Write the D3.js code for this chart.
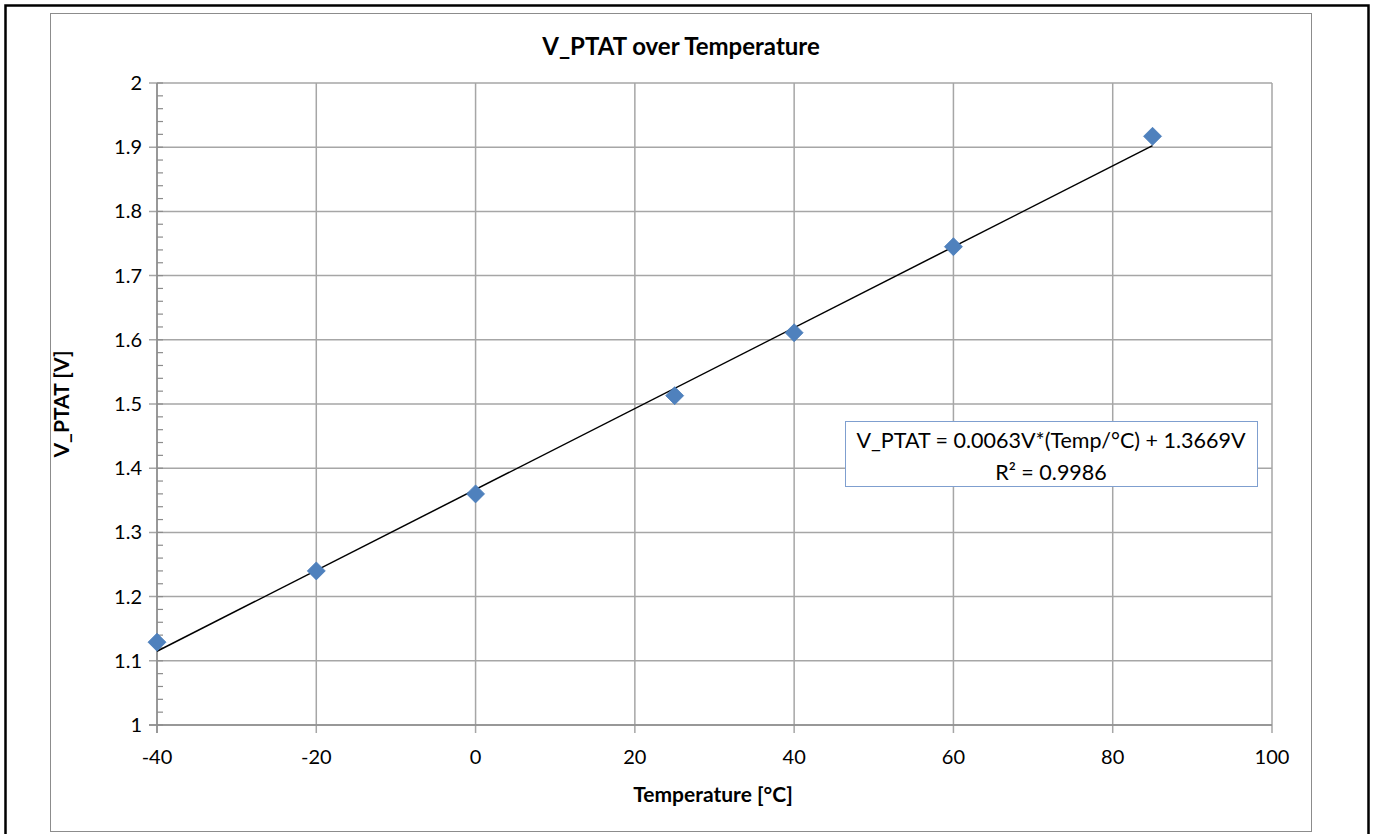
<!DOCTYPE html>
<html>
<head>
<meta charset="utf-8">
<script src="https://cdn.jsdelivr.net/npm/d3@7"></script>
<style>
  body { margin: 0; background: #fff; }
  svg { display: block; }
</style>
</head>
<body>
<svg id="viz"></svg>
<script>
// --- Data ---
const temps = [-40, -20, 0, 25, 40, 60, 85];
const vptat = [1.129, 1.240, 1.360, 1.513, 1.611, 1.745, 1.917];
const xTicks = [-40, -20, 0, 20, 40, 60, 80, 100];
const yTicks = [1, 1.1, 1.2, 1.3, 1.4, 1.5, 1.6, 1.7, 1.8, 1.9, 2];
const trendSlope = 0.0063;
const trendIntercept = 1.3669;
const trendLabel = ["V_PTAT = 0.0063V*(Temp/°C) + 1.3669V", "R² = 0.9986"];

const width = 1375;
const height = 834;
const font = "Lato, 'Open Sans', sans-serif";

const svg = d3.select("#viz")
  .attr("width", width)
  .attr("height", height);

// --- Outer frame ---
svg.append("rect")
  .attr("x", 5.5).attr("y", 5.5)
  .attr("width", 1363).attr("height", 840)
  .attr("fill", "none")
  .attr("stroke", "#000")
  .attr("stroke-width", 2.5);

// --- Chart area border ---
svg.append("rect")
  .attr("x", 50.5).attr("y", 13.5)
  .attr("width", 1261).attr("height", 818)
  .attr("fill", "#fff")
  .attr("stroke", "#8c8c8c")
  .attr("stroke-width", 1);

const x = d3.scaleLinear().domain([-40, 100]).range([157, 1272]);
const y = d3.scaleLinear().domain([1, 2]).range([725, 83]);

// --- Grid lines ---
const grid = svg.append("g").attr("stroke", "#a6a6a6").attr("stroke-width", 1.5);
grid.selectAll(".gx").data(xTicks).join("line")
  .attr("x1", d => x(d)).attr("x2", d => x(d))
  .attr("y1", y(2)).attr("y2", y(1) + 8);
grid.selectAll(".gy").data(yTicks).join("line")
  .attr("x1", x(-40) - 8).attr("x2", x(100))
  .attr("y1", d => y(d)).attr("y2", d => y(d));

// --- Minor ticks on y axis ---
const minor = d3.range(1, 2.0001, 0.02);
svg.append("g").attr("stroke", "#8c8c8c").attr("stroke-width", 1.2)
  .selectAll("line").data(minor).join("line")
  .attr("x1", x(-40)).attr("x2", x(-40) + 6)
  .attr("y1", d => y(d)).attr("y2", d => y(d));

// --- Axis lines ---
svg.append("line")
  .attr("x1", x(-40)).attr("x2", x(-40))
  .attr("y1", y(2)).attr("y2", y(1) + 8)
  .attr("stroke", "#8c8c8c").attr("stroke-width", 1.5);
svg.append("line")
  .attr("x1", x(-40) - 8).attr("x2", x(100))
  .attr("y1", y(1)).attr("y2", y(1))
  .attr("stroke", "#8c8c8c").attr("stroke-width", 1.5);

// --- Tick labels ---
svg.append("g").selectAll("text").data(yTicks).join("text")
  .attr("x", x(-40) - 15)
  .attr("y", d => y(d))
  .attr("dy", "0.35em")
  .attr("text-anchor", "end")
  .attr("font-family", font)
  .attr("font-size", 20)
  .text(d => d3.format("")(d));

svg.append("g").selectAll("text").data(xTicks).join("text")
  .attr("x", d => x(d))
  .attr("y", y(1) + 32)
  .attr("dy", "0.35em")
  .attr("text-anchor", "middle")
  .attr("font-family", font)
  .attr("font-size", 20)
  .text(d => d);

// --- Titles ---
svg.append("text")
  .attr("x", 681).attr("y", 47)
  .attr("dy", "0.35em")
  .attr("text-anchor", "middle")
  .attr("font-family", font)
  .attr("font-weight", "bold")
  .attr("font-size", 24)
  .text("V_PTAT over Temperature");

svg.append("text")
  .attr("x", 713).attr("y", 795)
  .attr("dy", "0.35em")
  .attr("text-anchor", "middle")
  .attr("font-family", font)
  .attr("font-weight", "bold")
  .attr("font-size", 21)
  .text("Temperature [°C]");

svg.append("text")
  .attr("transform", "translate(62,404) rotate(-90)")
  .attr("dy", "0.35em")
  .attr("text-anchor", "middle")
  .attr("font-family", font)
  .attr("font-weight", "bold")
  .attr("font-size", 21)
  .text("V_PTAT [V]");

// --- Trend line ---
svg.append("line")
  .attr("x1", x(-40)).attr("y1", y(trendSlope * -40 + trendIntercept))
  .attr("x2", x(85)).attr("y2", y(trendSlope * 85 + trendIntercept))
  .attr("stroke", "#000")
  .attr("stroke-width", 1.5);

// --- Data points (diamonds) ---
const points = temps.map((t, i) => ({ t, v: vptat[i] }));
svg.append("g").selectAll("path").data(points).join("path")
  .attr("transform", d => `translate(${x(d.t)},${y(d.v)})`)
  .attr("d", "M0,-9L9,0L0,9L-9,0Z")
  .attr("fill", "#4f81bd")
  .attr("stroke", "#4a7ebb")
  .attr("stroke-width", 0.8);

// --- Trend label box ---
const box = svg.append("g");
box.append("rect")
  .attr("x", 845.5).attr("y", 421.5)
  .attr("width", 412).attr("height", 65)
  .attr("fill", "#fff")
  .attr("stroke", "#7f9fcf")
  .attr("stroke-width", 1);
box.selectAll("text").data(trendLabel).join("text")
  .attr("x", 1051)
  .attr("y", (d, i) => 440 + i * 32)
  .attr("dy", "0.35em")
  .attr("text-anchor", "middle")
  .attr("font-family", font)
  .attr("font-size", 21.5)
  .text(d => d);
</script>
</body>
</html>
